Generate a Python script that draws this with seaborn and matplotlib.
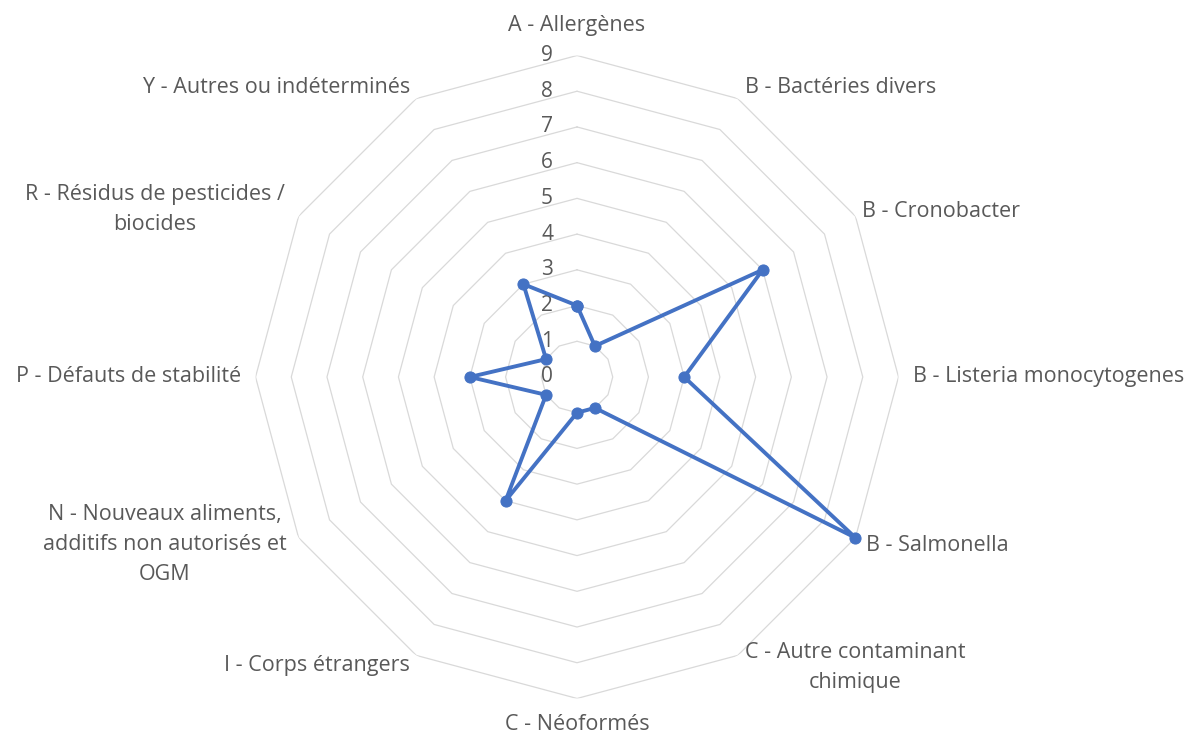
import numpy as np
import pandas as pd
import matplotlib
matplotlib.use("Agg")
import matplotlib.pyplot as plt
import matplotlib.transforms as mtransforms
import seaborn as sns

categories = [
    "A - Allergènes",
    "B - Bactéries divers",
    "B - Cronobacter",
    "B - Listeria monocytogenes",
    "B - Salmonella",
    "C - Autre contaminant\nchimique",
    "C - Néoformés",
    "I - Corps étrangers",
    "N - Nouveaux aliments,\nadditifs non autorisés et\nOGM",
    "P - Défauts de stabilité",
    "R - Résidus de pesticides /\nbiocides",
    "Y - Autres ou indéterminés",
]
values = [2, 1, 6, 3, 9, 1, 1, 4, 1, 3, 1, 3]
r_ticks = [0, 1, 2, 3, 4, 5, 6, 7, 8, 9]

sns.set_theme(style="white")
plt.rcParams["font.family"] = ["Open Sans", "DejaVu Sans"]

TEXT = "#595959"
GRID = "#D9D9D9"
LINE = "#4472C4"

n = len(categories)
theta = np.arange(n) * 2 * np.pi / n

fig = plt.figure(figsize=(11.89, 7.41), dpi=100)
ax = fig.add_axes([0.2149, 0.0574, 0.5408, 0.8677], projection="polar")
ax.set_theta_zero_location("N")
ax.set_theta_direction(-1)
ax.set_ylim(0, 9)
ax.grid(False)
ax.spines["polar"].set_visible(False)
ax.set_xticks([])
ax.set_yticks([])

# polygonal grid rings (closing point at 2*pi)
theta_closed = np.append(theta, 2 * np.pi)
for r in r_ticks[1:]:
    ax.plot(theta_closed, np.full(n + 1, r), color=GRID, lw=0.9, zorder=1)

# radial value labels along the top axis
for r in r_ticks:
    tr = mtransforms.offset_copy(ax.transData, fig=fig, x=-24, y=0, units="dots")
    ax.text(0, r, str(r), transform=tr, ha="right", va="center",
            fontsize=15, color=TEXT)

# data series, closed back onto the first category
df = pd.DataFrame({"theta": theta_closed, "value": values + values[:1]})
sns.lineplot(data=df, x="theta", y="value", ax=ax, sort=False, estimator=None,
             color=LINE, lw=2.8, marker="o", markersize=8,
             markeredgecolor=LINE, zorder=3, clip_on=False)
ax.set_xlabel("")
ax.set_ylabel("")

# category labels around the outer ring: (dx, dy) in pixels, alignment
label_style = [
    (0, -30, "center"),
    (7.5, -11, "left"),
    (7, -5, "left"),
    (14, 0, "left"),
    (11, 7.5, "left"),
    (7.5, 12.5, "left"),
    (0, 26.5, "center"),
    (-6.5, 10, "right"),
    (-12, 6.5, "right"),
    (-14, 0, "right"),
    (-14, -6.5, "right"),
    (-6.5, -11, "right"),
]
for t, lab, (dx, dy, ha) in zip(theta, categories, label_style):
    tr = mtransforms.offset_copy(ax.transData, fig=fig, x=dx, y=-dy, units="dots")
    ax.text(t, 9, lab, transform=tr, ha=ha, va="center", fontsize=15.5,
            color=TEXT, multialignment="center", linespacing=1.55)

fig.savefig("out.png", dpi=100, facecolor="white")
